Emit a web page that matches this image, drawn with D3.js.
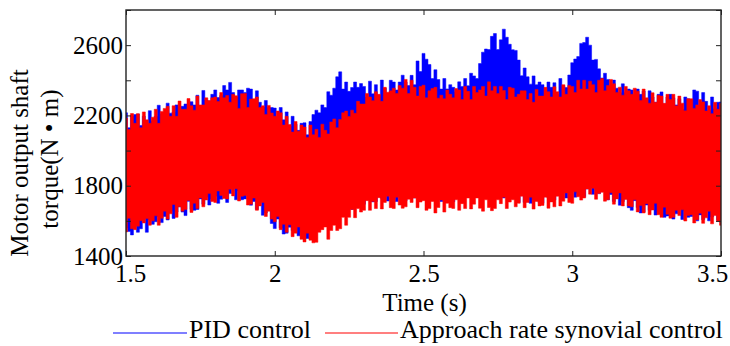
<!DOCTYPE html>
<html>
<head>
<meta charset="utf-8">
<script src="https://cdn.jsdelivr.net/npm/d3@7"></script>
<style>
  html, body { margin: 0; padding: 0; background: #fff; }
  svg { display: block; font-family: "Liberation Serif", "Times New Roman", "DejaVu Serif", serif; }
  text { font-family: "Liberation Serif", "Times New Roman", "DejaVu Serif", serif; fill: #000; }
</style>
</head>
<body>
<script>
// ---- data (per 0.01 s sample: local max / min of the oscillating torque, N·m) ----
const tStart = 1.5, tStep = 0.01;
const pidHi = [
  2215,2130,2197,2205,2208,2143,2196,2145,2227,2170,
  2195,2258,2210,2202,2270,2213,2220,2260,2246,2252,
  2265,2241,2278,2260,2315,2235,2342,2288,2282,2320,
  2345,2302,2313,2370,2345,2388,2330,2307,2345,2345,
  2331,2355,2350,2270,2340,2275,2248,2285,2245,2245,
  2242,2175,2245,2175,2220,2140,2195,2150,2115,2155,
  2158,2090,2165,2205,2230,2215,2260,2245,2335,2315,
  2355,2420,2448,2350,2390,2337,2359,2390,2360,2381,
  2365,2305,2395,2323,2375,2315,2401,2355,2325,2400,
  2390,2345,2390,2429,2390,2370,2428,2375,2510,2450,
  2553,2520,2490,2410,2460,2404,2350,2410,2351,2375,
  2360,2335,2391,2365,2410,2369,2440,2425,2410,2495,
  2560,2578,2575,2650,2666,2575,2630,2691,2645,2605,
  2574,2570,2515,2426,2470,2420,2378,2425,2375,2390,
  2375,2340,2390,2360,2386,2320,2410,2370,2359,2430,
  2500,2521,2535,2610,2615,2645,2600,2515,2519,2465,
  2413,2440,2405,2350,2401,2355,2330,2380,2332,2350,
  2345,2310,2350,2320,2339,2295,2340,2305,2275,2320,
  2334,2265,2305,2320,2300,2260,2295,2235,2305,2295,
  2290,2345,2338,2260,2330,2280,2230,2305,2240,2275,
  2277
];
const pidLo = [
  1560,1540,1520,1585,1535,1555,1615,1535,1605,1580,
  1595,1625,1590,1625,1605,1655,1614,1650,1680,1650,
  1630,1711,1665,1660,1665,1725,1695,1735,1690,1725,
  1740,1700,1723,1775,1705,1755,1797,1720,1770,1720,
  1725,1755,1689,1710,1665,1710,1632,1645,1660,1585,
  1556,1610,1560,1525,1530,1564,1545,1570,1515,1535,
  1550,1500,1530,1590,1550,1595,1645,1585,1640,1614,
  1630,1685,1632,1680,1660,1720,1665,1700,1750,1700,
  1695,1760,1730,1708,1710,1765,1729,1770,1713,1750,
  1765,1710,1740,1787,1715,1765,1790,1730,1777,1738,
  1747,1785,1715,1765,1723,1778,1710,1745,1775,1720,
  1708,1775,1745,1725,1745,1801,1760,1805,1750,1770,
  1782,1730,1752,1785,1730,1755,1788,1730,1765,1738,
  1730,1780,1705,1748,1705,1755,1700,1720,1759,1705,
  1700,1755,1730,1710,1718,1770,1750,1777,1730,1762,
  1775,1735,1755,1805,1738,1781,1810,1751,1792,1755,
  1766,1795,1720,1750,1710,1760,1689,1710,1745,1675,
  1660,1715,1676,1645,1650,1690,1660,1687,1633,1655,
  1660,1620,1628,1678,1610,1640,1682,1608,1658,1620,
  1625,1663,1600,1634,1607,1656,1600,1622,1668,1604,
  1594
];
const arsHi = [
  2185,2120,2211,2155,2210,2130,2220,2175,2155,2190,
  2235,2155,2223,2240,2252,2195,2255,2195,2282,2235,
  2235,2296,2255,2230,2310,2260,2260,2300,2285,2300,
  2305,2279,2330,2300,2313,2275,2320,2312,2240,2324,
  2325,2245,2293,2295,2305,2245,2255,2205,2257,2214,
  2195,2225,2215,2145,2195,2148,2105,2165,2110,2145,
  2134,2075,2145,2090,2121,2075,2150,2115,2095,2163,
  2180,2130,2177,2215,2225,2194,2230,2212,2280,2265,
  2265,2325,2305,2284,2335,2320,2280,2360,2332,2340,
  2355,2325,2370,2355,2405,2325,2400,2360,2310,2365,
  2372,2300,2340,2353,2360,2298,2315,2295,2345,2320,
  2300,2353,2345,2290,2365,2337,2290,2365,2330,2345,
  2365,2310,2391,2340,2365,2325,2365,2342,2290,2360,
  2355,2305,2320,2340,2340,2290,2325,2275,2348,2310,
  2310,2360,2335,2305,2363,2335,2305,2375,2320,2371,
  2365,2330,2400,2350,2400,2350,2395,2375,2330,2400,
  2410,2340,2370,2405,2380,2330,2361,2315,2365,2340,
  2320,2355,2338,2285,2350,2300,2270,2329,2275,2315,
  2310,2269,2320,2290,2320,2255,2310,2270,2226,2295,
  2295,2240,2260,2290,2277,2225,2255,2210,2275,2235,
  2268
];
const arsLo = [
  1537,1615,1555,1550,1570,1601,1588,1613,1575,1600,
  1629,1575,1615,1655,1610,1640,1693,1620,1680,1655,
  1665,1716,1648,1700,1670,1730,1680,1719,1755,1710,
  1705,1770,1745,1727,1725,1780,1742,1783,1713,1740,
  1745,1690,1695,1730,1660,1685,1705,1625,1655,1610,
  1595,1625,1550,1580,1535,1578,1510,1530,1565,1495,
  1480,1530,1490,1475,1478,1535,1550,1565,1495,1545,
  1575,1545,1555,1620,1575,1620,1665,1618,1670,1650,
  1660,1715,1660,1710,1670,1732,1668,1705,1740,1675,
  1670,1735,1690,1672,1680,1723,1705,1730,1675,1707,
  1715,1660,1670,1710,1645,1676,1718,1650,1700,1675,
  1671,1720,1660,1698,1670,1730,1668,1695,1730,1672,
  1655,1720,1676,1658,1670,1720,1698,1735,1670,1707,
  1720,1680,1700,1740,1675,1705,1735,1667,1710,1685,
  1688,1735,1672,1708,1680,1740,1685,1712,1759,1705,
  1700,1765,1737,1718,1730,1782,1752,1785,1723,1755,
  1763,1712,1720,1760,1695,1725,1759,1685,1722,1685,
  1680,1720,1651,1688,1645,1698,1635,1662,1700,1635,
  1620,1678,1638,1615,1620,1660,1630,1663,1599,1631,
  1635,1588,1607,1644,1586,1617,1655,1583,1630,1596,
  1575
];
const xTicks = [1.5, 2, 2.5, 3, 3.5];
const xTickLabels = ["1.5", "2", "2.5", "3", "3.5"];
const yTicks = [1400, 1600, 1800, 2000, 2200, 2400, 2600, 2800];
const yTickLabels = ["1400", "", "1800", "", "2200", "", "2600", ""];
const seriesNames = ["PID control", "Approach rate synovial control"];
const seriesColors = ["#0000ff", "#ff0000"];

// ---- layout ----
const W = 730, H = 346;
const m = { left: 126, right: 721, top: 10, bottom: 256 };
const FONT = '"Liberation Serif", "Times New Roman", "DejaVu Serif", serif';
const svg = d3.select("body").append("svg").attr("width", W).attr("height", H);

const x = d3.scaleLinear().domain([1.5, 3.5]).range([m.left, m.right]);
const y = d3.scaleLinear().domain([1400, 2800]).range([m.bottom, m.top]);

svg.append("clipPath").attr("id", "clip").append("rect")
  .attr("x", m.left).attr("y", m.top).attr("width", m.right - m.left).attr("height", m.bottom - m.top);

const area = d3.area()
  .curve(d3.curveStep)
  .x(d => x(d.t))
  .y0(d => y(d.lo))
  .y1(d => y(d.hi));

const g = svg.append("g").attr("clip-path", "url(#clip)");
[[pidHi, pidLo], [arsHi, arsLo]].forEach((s, k) => {
  const pts = s[0].map((h, i) => ({ t: tStart + i * tStep, hi: h, lo: s[1][i] }));
  g.append("path").datum(pts)
    .attr("d", area)
    .attr("fill", seriesColors[k])
    .attr("stroke", seriesColors[k]).attr("stroke-width", 0.5);
});

// ---- axes box with inward ticks ----
const axisColor = "#222";
const tickLen = 5;
svg.append("rect").attr("x", m.left).attr("y", m.top)
  .attr("width", m.right - m.left).attr("height", m.bottom - m.top)
  .attr("fill", "none").attr("stroke", axisColor).attr("stroke-width", 1.4);

const bottomAxis = d3.axisBottom(x).tickValues(xTicks).tickSize(-tickLen).tickPadding(9)
  .tickFormat((d, i) => xTickLabels[i]);
const gb = svg.append("g").attr("transform", `translate(0,${m.bottom})`).call(bottomAxis);
const topAxis = d3.axisTop(x).tickValues(xTicks).tickSize(-tickLen).tickFormat("");
const gt = svg.append("g").attr("transform", `translate(0,${m.top})`).call(topAxis);
const leftAxis = d3.axisLeft(y).tickValues(yTicks).tickSize(-tickLen).tickPadding(6)
  .tickFormat((d, i) => yTickLabels[i]);
const gl = svg.append("g").attr("transform", `translate(${m.left},0)`).call(leftAxis);
const rightAxis = d3.axisRight(y).tickValues(yTicks).tickSize(-tickLen).tickFormat("");
const gr = svg.append("g").attr("transform", `translate(${m.right},0)`).call(rightAxis);

[gb, gt, gl, gr].forEach(a => {
  a.attr("font-family", FONT);
  a.select(".domain").remove();
  a.selectAll(".tick line").attr("stroke", axisColor).attr("stroke-width", 1);
  a.selectAll("text").attr("font-family", FONT).attr("font-size", 25).attr("fill", "#000");
});
gb.selectAll(".tick text").attr("dy", null).attr("y", 26)
  .attr("dx", (d, i) => i === 0 ? 4 : (i === xTicks.length - 1 ? -9 : 0));
gl.selectAll(".tick text").attr("dy", "0.33em").attr("x", -3);

// ---- axis titles ----
svg.append("text").attr("x", (m.left + m.right) / 2 + 1).attr("y", 311)
  .attr("text-anchor", "middle").attr("font-size", 25).text("Time (s)");

const yt = svg.append("g");
yt.append("text").attr("transform", "translate(28,163) rotate(-90)")
  .attr("text-anchor", "middle").attr("font-size", 25).text("Motor output shaft");
yt.append("text").attr("transform", "translate(58,159) rotate(-90)")
  .attr("text-anchor", "middle").attr("font-size", 25).text("torque(N \u2022 m)");

// ---- legend ----
const legendItems = [
  { x1: 113, x2: 187, tx: 189 },
  { x1: 325, x2: 398, tx: 400 }
];
const lg = svg.append("g");
seriesNames.forEach((name, k) => {
  const it = legendItems[k];
  lg.append("line").attr("x1", it.x1).attr("x2", it.x2).attr("y1", 333).attr("y2", 333)
    .attr("stroke", seriesColors[k]).attr("stroke-width", 1.2);
  lg.append("text").attr("x", it.tx).attr("y", 338).attr("font-size", 26).text(name);
});
</script>
</body>
</html>
